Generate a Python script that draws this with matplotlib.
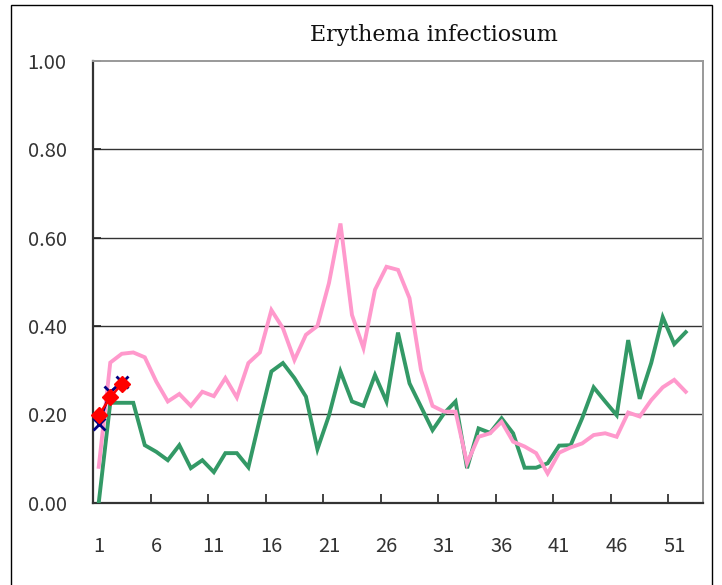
import matplotlib
matplotlib.use("Agg")
import matplotlib.pyplot as plt
from matplotlib.patches import Rectangle
from matplotlib.ticker import FixedLocator

weeks = list(range(1, 53))
series_green = [0.000, 0.226, 0.226, 0.226, 0.130, 0.115, 0.096, 0.130, 0.078, 0.096,
                0.069, 0.112, 0.112, 0.080, 0.190, 0.297, 0.316, 0.282, 0.240, 0.121,
                0.197, 0.297, 0.229, 0.219, 0.289, 0.229, 0.385, 0.270, 0.217, 0.164,
                0.202, 0.229, 0.078, 0.168, 0.158, 0.191, 0.157, 0.079, 0.079, 0.089,
                0.129, 0.130, 0.191, 0.261, 0.229, 0.198, 0.368, 0.235, 0.316, 0.420,
                0.359, 0.386]
series_pink = [0.081, 0.317, 0.337, 0.340, 0.329, 0.274, 0.229, 0.246, 0.219, 0.251,
               0.241, 0.282, 0.238, 0.316, 0.340, 0.436, 0.395, 0.323, 0.380, 0.400,
               0.497, 0.632, 0.425, 0.350, 0.482, 0.534, 0.527, 0.463, 0.300, 0.219,
               0.206, 0.206, 0.089, 0.149, 0.157, 0.183, 0.138, 0.127, 0.112, 0.066,
               0.113, 0.125, 0.134, 0.153, 0.157, 0.149, 0.204, 0.195, 0.232, 0.261,
               0.278, 0.251]
current_weeks = [1, 2, 3]
series_blue = [0.178, 0.251, 0.272]
series_red = [0.198, 0.238, 0.269]

xtick_labels = ["1", "6", "11", "16", "21", "26", "31", "36", "41", "46", "51"]
xtick_pos = [int(s) for s in xtick_labels]
ytick_vals = [0.0, 0.2, 0.4, 0.6, 0.8, 1.0]
ytick_labels = ["0.00", "0.20", "0.40", "0.60", "0.80", "1.00"]
title = "Erythema infectiosum"

W, H = 722, 585
fig = plt.figure(figsize=(W / 100, H / 100), dpi=100)
fig.patch.set_facecolor("white")

# outer chart border
fig.patches.append(Rectangle((11 / W, -0.05), (712 - 11) / W, 1 - 5 / H + 0.05,
                             transform=fig.transFigure, fill=False,
                             edgecolor="black", linewidth=1.0, zorder=0))

left, right, top, bottom = 93, 703, 61, 502.6
ax = fig.add_axes([left / W, 1 - bottom / H, (right - left) / W, (bottom - top) / H])

ax.plot(weeks, series_green, color="#339966", lw=2.8, zorder=3, solid_joinstyle="miter")
ax.plot(weeks, series_pink, color="#FF99CC", lw=2.8, zorder=4, solid_joinstyle="miter")
ax.plot(current_weeks, series_blue, color="#000080", lw=1.8, marker="x",
        markersize=9, markeredgewidth=2, zorder=5, clip_on=False)
ax.plot(current_weeks, series_red, color="#FF0000", lw=1.8, marker="D",
        markersize=8, zorder=6, clip_on=False)

ax.set_xlim(0.5, 53.5)
ax.set_ylim(0, 1.0)

ax.set_yticks(ytick_vals)
ax.set_yticklabels(ytick_labels)
ax.set_xticks(xtick_pos)
ax.set_xticklabels(xtick_labels)
ax.xaxis.set_minor_locator(FixedLocator([5.5 + 5 * k for k in range(10)]))

label_font = "Noto Sans CJK JP"
for lab in ax.get_xticklabels() + ax.get_yticklabels():
    lab.set_fontfamily(label_font)
    lab.set_fontsize(14.5)
    lab.set_color("#333333")

ax.tick_params(axis="x", which="major", length=0, pad=24)
ax.tick_params(axis="x", which="minor", direction="in", length=6.5, width=1.2, color="#222222")
ax.tick_params(axis="y", which="major", direction="in", length=6, width=1.2,
               color="#222222", pad=19)

for yv in ytick_vals[1:-1]:
    ax.axhline(yv, color="#333333", lw=1.0, zorder=1)

ax.spines["left"].set_color("#333333")
ax.spines["left"].set_linewidth(1.6)
ax.spines["bottom"].set_color("#333333")
ax.spines["bottom"].set_linewidth(1.6)
ax.spines["top"].set_color("#999999")
ax.spines["top"].set_linewidth(1.4)
ax.spines["right"].set_color("#999999")
ax.spines["right"].set_linewidth(1.4)

fig.text(433.5 / W, 1 - 35 / H, title, ha="center", va="center",
         fontfamily="DejaVu Serif", fontsize=15.9, color="#111111")

fig.savefig("out.png", dpi=100)
